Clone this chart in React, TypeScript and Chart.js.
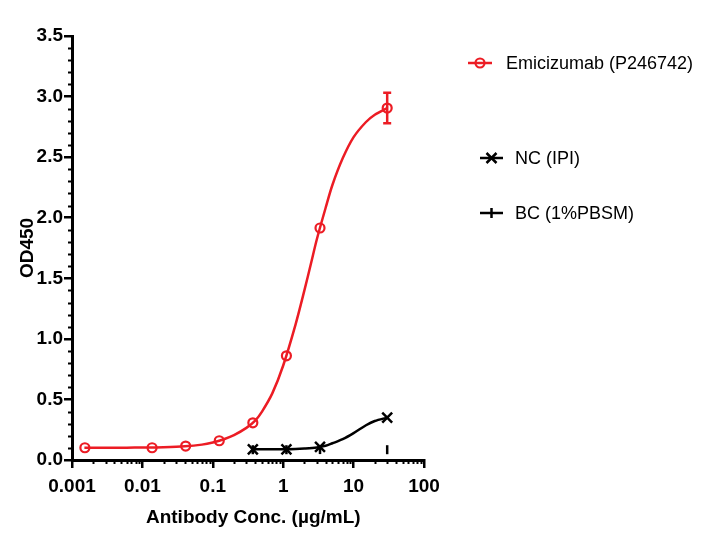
import { useEffect, useRef } from 'react';
import { Chart, registerables } from 'chart.js';

Chart.register(...registerables);

// measured points (µg/mL, OD450)
const emiConc = [0.001524, 0.01372, 0.04115, 0.1235, 0.3704, 1.111, 3.333, 30];
const emiOD = [0.101, 0.101, 0.115, 0.159, 0.307, 0.86, 1.915, 2.905];
const emiErr = [0, 0, 0, 0, 0, 0, 0, 0.126];

const ncConc = [0.3704, 1.111, 3.333, 30];
const ncOD = [0.088, 0.088, 0.108, 0.35];

const bcConc = [0.3704, 1.111, 3.333, 30];
const bcOD = [0.085, 0.085, 0.086, 0.085];

// fitted curves
const emiFitX = [0.0015, 0.003, 0.006, 0.01, 0.02, 0.04, 0.07, 0.1, 0.15, 0.2, 0.3, 0.4, 0.5, 0.7, 1, 1.5, 2, 2.5, 3, 4, 5, 7, 10, 15, 20, 30];
const emiFitY = [0.101, 0.101, 0.102, 0.103, 0.106, 0.113, 0.127, 0.145, 0.175, 0.205, 0.265, 0.325, 0.4, 0.55, 0.78, 1.12, 1.4, 1.63, 1.82, 2.08, 2.27, 2.49, 2.665, 2.79, 2.85, 2.905];

const ncFitX = [0.37, 0.6, 1, 1.5, 2, 3, 4, 5, 7, 10, 15, 20, 30];
const ncFitY = [0.088, 0.088, 0.089, 0.091, 0.095, 0.104, 0.117, 0.138, 0.172, 0.222, 0.287, 0.322, 0.35];

const xTicks = [0.001, 0.01, 0.1, 1, 10, 100];
const xTickLabels = ['0.001', '0.01', '0.1', '1', '10', '100'];

const RED = '#ec1c24';
const FONT = '"Liberation Sans", Arial, sans-serif';

const pts = (xs: number[], ys: number[]) => xs.map((x, i) => ({ x, y: ys[i] }));

const axisExtras = {
  id: 'axisExtras',
  afterDatasetsDraw(chart: any) {
    const { ctx, scales } = chart;
    const x = scales.x;
    const y = scales.y;
    ctx.save();
    ctx.strokeStyle = '#000';
    ctx.lineWidth = 2;
    // minor ticks on y
    for (let i = 1; i < 35; i++) {
      if (i % 5 === 0) continue;
      const py = Math.round(y.getPixelForValue(i / 10)) + 0.5;
      ctx.beginPath();
      ctx.moveTo(x.left, py);
      ctx.lineTo(x.left - 4, py);
      ctx.stroke();
    }
    // minor ticks on log x
    for (let d = 0; d < xTicks.length - 1; d++) {
      for (let k = 2; k <= 9; k++) {
        const px = Math.round(x.getPixelForValue(xTicks[d] * k)) + 0.5;
        ctx.beginPath();
        ctx.moveTo(px, y.bottom);
        ctx.lineTo(px, y.bottom + 4);
        ctx.stroke();
      }
    }
    // error bars
    ctx.strokeStyle = RED;
    ctx.lineWidth = 2.5;
    emiConc.forEach((c, i) => {
      if (!emiErr[i]) return;
      const px = x.getPixelForValue(c);
      const top = y.getPixelForValue(emiOD[i] + emiErr[i]);
      const bot = y.getPixelForValue(emiOD[i] - emiErr[i]);
      ctx.beginPath();
      ctx.moveTo(px, top);
      ctx.lineTo(px, bot);
      ctx.moveTo(px - 4, top);
      ctx.lineTo(px + 4, top);
      ctx.moveTo(px - 4, bot);
      ctx.lineTo(px + 4, bot);
      ctx.stroke();
    });
    ctx.restore();
  },
};

function LegendRow({ top, lineFrom, lineTo, label, color, marker }: any) {
  const mid = (lineFrom + lineTo) / 2;
  return (
    <div style={{ position: 'absolute', left: 0, top: 0 }}>
      <svg width={712} height={544} style={{ position: 'absolute', left: 0, top: 0, pointerEvents: 'none' }}>
        <line x1={lineFrom} x2={lineTo} y1={top} y2={top} stroke={color} strokeWidth={2.5} />
        {marker === 'circle' && <circle cx={mid} cy={top} r={4.5} fill="none" stroke={color} strokeWidth={2.2} />}
        {marker === 'cross' && (
          <path d={`M${mid - 5} ${top - 5} L${mid + 5} ${top + 5} M${mid - 5} ${top + 5} L${mid + 5} ${top - 5}`} stroke={color} strokeWidth={2.5} />
        )}
        {marker === 'tick' && <line x1={mid} x2={mid} y1={top - 5} y2={top + 5} stroke={color} strokeWidth={2.5} />}
      </svg>
      <div
        style={{
          position: 'absolute',
          left: lineTo + (marker === 'circle' ? 14 : 12),
          top: top - 11,
          font: `18px ${FONT}`,
          lineHeight: '22px',
          whiteSpace: 'nowrap',
          color: '#000',
        }}
      >
        {label}
      </div>
    </div>
  );
}

export default function App() {
  const canvasRef = useRef<HTMLCanvasElement>(null);
  const chartRef = useRef<Chart | null>(null);

  useEffect(() => {
    if (!canvasRef.current) return;
    if (chartRef.current) chartRef.current.destroy();

    chartRef.current = new Chart(canvasRef.current, {
      type: 'scatter',
      data: {
        datasets: [
          {
            data: pts(emiFitX, emiFitY),
            showLine: true,
            borderColor: RED,
            borderWidth: 2.5,
            pointRadius: 0,
            tension: 0.3,
          },
          {
            data: pts(ncFitX, ncFitY),
            showLine: true,
            borderColor: '#000',
            borderWidth: 2.5,
            pointRadius: 0,
            tension: 0.3,
          },
          {
            data: pts(bcConc, bcOD),
            pointStyle: 'line',
            rotation: 90,
            pointRadius: 4.5,
            borderColor: '#000',
            borderWidth: 2.5,
          },
          {
            data: pts(ncConc, ncOD),
            pointStyle: 'crossRot',
            pointRadius: 7,
            borderColor: '#000',
            borderWidth: 2.5,
          },
          {
            data: pts(emiConc, emiOD),
            pointStyle: 'circle',
            pointRadius: 4.5,
            borderColor: RED,
            backgroundColor: 'rgba(0,0,0,0)',
            borderWidth: 2.2,
          },
        ],
      },
      options: {
        responsive: false,
        animation: false,
        layout: { padding: { top: 36, right: 288, left: 0, bottom: 0 } },
        plugins: { legend: { display: false }, tooltip: { enabled: false } },
        scales: {
          x: {
            type: 'logarithmic',
            min: 0.001,
            max: 100,
            afterBuildTicks: (s: any) => {
              s.ticks = xTicks.map(v => ({ value: v, major: true }));
            },
            afterFit: (s: any) => {
              s.height = 84;
            },
            border: { display: true, color: '#000', width: 3 },
            grid: { drawOnChartArea: false, drawTicks: true, tickLength: 8, color: '#000', lineWidth: 2.5 },
            ticks: {
              autoSkip: false,
              maxRotation: 0,
              padding: 7,
              color: '#000',
              font: { family: FONT, size: 19, weight: 'bold' },
              callback: (v: any) => {
                const i = xTicks.findIndex(t => Math.abs(t - Number(v)) / t < 1e-6);
                return i >= 0 ? xTickLabels[i] : '';
              },
            },
            title: {
              display: true,
              text: '  Antibody Conc. (µg/mL)',
              color: '#000',
              font: { family: FONT, size: 19, weight: 'bold' },
              padding: { top: 0, bottom: 15 },
            },
          },
          y: {
            min: 0,
            max: 3.5,
            afterFit: (s: any) => {
              s.width = 72;
            },
            border: { display: true, color: '#000', width: 3 },
            grid: { drawOnChartArea: false, drawTicks: true, tickLength: 8, color: '#000', lineWidth: 2.5 },
            ticks: {
              stepSize: 0.5,
              padding: 1,
              color: '#000',
              font: { family: FONT, size: 19, weight: 'bold' },
              callback: (v: any) => Number(v).toFixed(1),
            },
            title: {
              display: true,
              text: 'OD450',
              color: '#000',
              font: { family: FONT, size: 19, weight: 'bold' },
              padding: { top: 16, bottom: 0 },
            },
          },
        },
      },
      plugins: [axisExtras],
    });

    return () => chartRef.current?.destroy();
  }, []);

  return (
    <div style={{ position: 'absolute', left: 0, top: 0, width: 712, height: 544, background: '#fff' }}>
      <canvas ref={canvasRef} width={712} height={544} />
      <LegendRow top={63} lineFrom={468} lineTo={492} label="Emicizumab (P246742)" color={RED} marker="circle" />
      <LegendRow top={158} lineFrom={480} lineTo={503} label="NC (IPI)" color="#000" marker="cross" />
      <LegendRow top={213} lineFrom={480} lineTo={503} label="BC (1%PBSM)" color="#000" marker="tick" />
    </div>
  );
}
